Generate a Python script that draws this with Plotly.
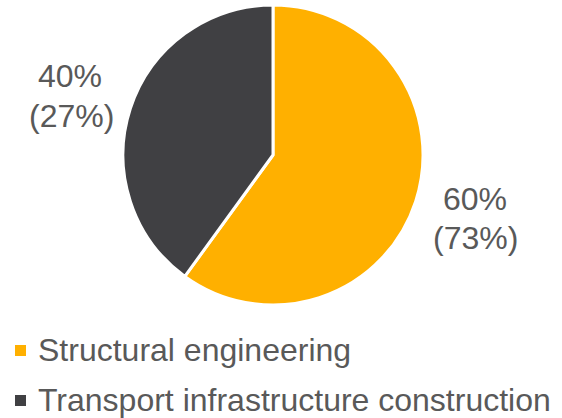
import plotly.graph_objects as go

# Share of revenue by segment (previous year in brackets)
segments = ["Structural engineering", "Transport infrastructure construction"]
shares = [60, 40]
prior_shares = [73, 27]
colors = ["#FFB000", "#404043"]

W, H = 562, 418
FONT = "Liberation Sans, Arial, sans-serif"
TEXT_COLOR = "#595959"

fig = go.Figure(
    go.Pie(
        labels=segments,
        values=shares,
        textinfo="none",
        sort=False,
        direction="clockwise",
        rotation=0,
        marker=dict(colors=colors, line=dict(color="white", width=3)),
        hoverinfo="label+percent",
        showlegend=False,
        domain=dict(x=[123 / W, 423 / W], y=[(H - 305) / H, (H - 5) / H]),
    )
)


def px_x(px):
    return px / W


def px_y(py):
    return 1 - py / H


# Value labels beside each slice (pixel centres of the two lines)
label_pos = {
    "Structural engineering": ((475, 199), (475, 238)),
    "Transport infrastructure construction": ((70, 76), (71, 116)),
}
for seg, cur, prev in zip(segments, shares, prior_shares):
    (x1, y1), (x2, y2) = label_pos[seg]
    for (px, py), txt in (((x1, y1), f"{cur}%"), ((x2, y2), f"({prev}%)")):
        fig.add_annotation(
            x=px_x(px), y=px_y(py), xref="paper", yref="paper",
            text=txt, showarrow=False, xanchor="center", yanchor="middle",
            font=dict(size=32, color=TEXT_COLOR, family=FONT),
        )

# Legend below the pie: square swatch + label per segment
LEG_TOP = 350.5
LEG_STEP = 50
SW = 11
for i, (seg, col) in enumerate(zip(segments, colors)):
    cy = LEG_TOP + i * LEG_STEP
    fig.add_shape(
        type="rect", xref="paper", yref="paper",
        x0=px_x(15), x1=px_x(15 + SW),
        y0=px_y(cy + SW / 2), y1=px_y(cy - SW / 2),
        fillcolor=col, line=dict(width=0),
    )
    fig.add_annotation(
        x=px_x(36), y=px_y(cy - 1), xref="paper", yref="paper",
        text=seg, showarrow=False, xanchor="left", yanchor="middle",
        font=dict(size=32, color=TEXT_COLOR, family=FONT),
    )

fig.update_layout(
    width=W,
    height=H,
    margin=dict(l=0, r=0, t=0, b=0),
    paper_bgcolor="white",
    plot_bgcolor="white",
    font=dict(family=FONT, size=32, color=TEXT_COLOR),
    showlegend=False,
)

fig.write_html("out.html")
